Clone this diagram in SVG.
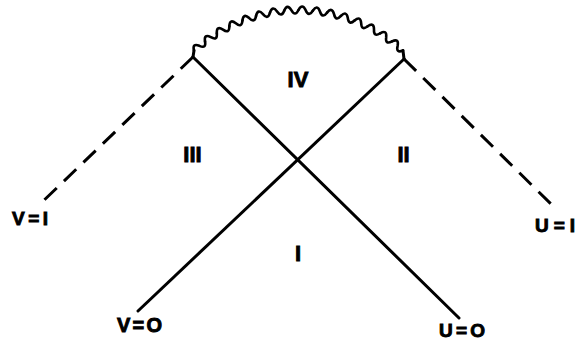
<svg xmlns="http://www.w3.org/2000/svg" xmlns:xlink="http://www.w3.org/1999/xlink" width="581" height="345" viewBox="0 0 581 345">
<style>
.ln{stroke:#000;stroke-width:3;fill:none;stroke-linecap:round}
.ds{stroke:#000;stroke-width:3;fill:none;stroke-dasharray:17 10;stroke-linecap:butt}
.wv{stroke:#000;stroke-width:2.6;fill:none;stroke-linecap:round}
.lb{font-family:"Liberation Sans",Arial,sans-serif;font-weight:bold;fill:#000;stroke:#000;stroke-width:0.9}
</style>
<defs>
<path id="w" class="wv" d="M-7.17,-154.83 Q-3.75,-161.96 0,-155 Q3.42,-147.96 7.17,-154.83"/>
</defs>
<g id="connectors">
<g id="singularity" transform="translate(298.5,165)">
<use xlink:href="#w" href="#w" transform="rotate(-39.75)"/>
<use xlink:href="#w" href="#w" transform="rotate(-34.45)"/>
<use xlink:href="#w" href="#w" transform="rotate(-29.15)"/>
<use xlink:href="#w" href="#w" transform="rotate(-23.85)"/>
<use xlink:href="#w" href="#w" transform="rotate(-18.55)"/>
<use xlink:href="#w" href="#w" transform="rotate(-13.25)"/>
<use xlink:href="#w" href="#w" transform="rotate(-7.95)"/>
<use xlink:href="#w" href="#w" transform="rotate(-2.65)"/>
<use xlink:href="#w" href="#w" transform="rotate(2.65)"/>
<use xlink:href="#w" href="#w" transform="rotate(7.95)"/>
<use xlink:href="#w" href="#w" transform="rotate(13.25)"/>
<use xlink:href="#w" href="#w" transform="rotate(18.55)"/>
<use xlink:href="#w" href="#w" transform="rotate(23.85)"/>
<use xlink:href="#w" href="#w" transform="rotate(29.15)"/>
<use xlink:href="#w" href="#w" transform="rotate(34.45)"/>
<use xlink:href="#w" href="#w" transform="rotate(39.75)"/>
</g>
<path class="ln" d="M194,50.6 L193,57"/>
<path class="ln" d="M403,50.6 L404,59"/>
<path id="u0" class="ln" d="M193,57 L459,318"/>
<path id="v0" class="ln" d="M404,59 L138,311"/>
<path id="v1" class="ds" d="M193,57 L38,206"/>
<path id="u1" class="ds" d="M404,59 L552,205"/>
</g>
<g id="region-IV"><text class="lb" x="298" y="87" font-size="22" text-anchor="middle">IV</text></g>
<g id="region-III"><text class="lb" x="192.5" y="162" font-size="22" text-anchor="middle">III</text></g>
<g id="region-II"><text class="lb" x="403.5" y="162" font-size="22" text-anchor="middle">II</text></g>
<g id="region-I"><text class="lb" x="298" y="261" font-size="22" text-anchor="middle">I</text></g>
<g id="label-v1"><text class="lb" x="12" y="225" font-size="19" textLength="36" lengthAdjust="spacing">V=I</text></g>
<g id="label-v0"><text class="lb" x="117" y="332" font-size="20" textLength="45" lengthAdjust="spacing">V=O</text></g>
<g id="label-u0"><text class="lb" x="439" y="337" font-size="19" textLength="46" lengthAdjust="spacing">U=O</text></g>
<g id="label-u1"><text class="lb" x="535" y="232" font-size="19" textLength="40" lengthAdjust="spacing">U=I</text></g>
</svg>
